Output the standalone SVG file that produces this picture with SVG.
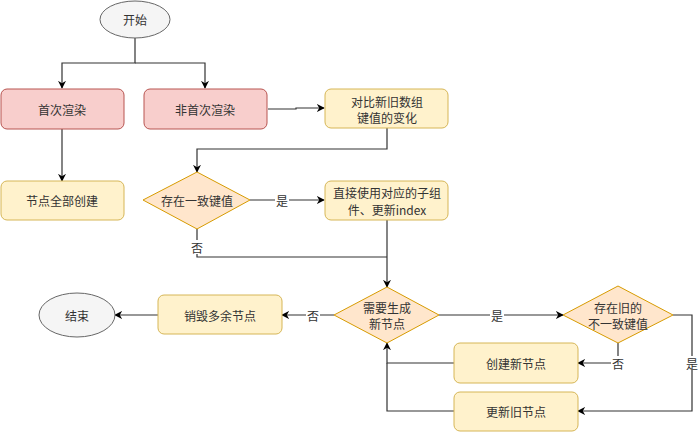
<svg xmlns="http://www.w3.org/2000/svg" width="700" height="432" viewBox="0 0 700 432">
<style>
text{font-family:"Noto Sans CJK SC","Liberation Sans",sans-serif;font-size:12px;fill:#333;text-anchor:middle;dominant-baseline:central}
.red{fill:#f8cecc;stroke:#b85450;stroke-width:1}
.yel{fill:#fff2cc;stroke:#d6b656;stroke-width:1}
.dia{fill:#ffe6cc;stroke:#d79b00;stroke-width:1}
.ell{fill:#f5f5f5;stroke:#666;stroke-width:1}
.e{fill:none;stroke:#333;stroke-width:1.2}
.lb{fill:#fff}
</style>
<defs>
<marker id="a" viewBox="0 0 10 10" refX="9" refY="5" markerWidth="8" markerHeight="8" markerUnits="userSpaceOnUse" orient="auto">
<path d="M0,0 L10,5 L0,10 L3,5 Z" fill="#000"/>
</marker>
</defs>
<g id="connectors">
<path class="e" d="M135,38 V63 H62 V88" marker-end="url(#a)"/>
<path class="e" d="M135,63 H205 V88" marker-end="url(#a)"/>
<path class="e" d="M268,109 H296 V108 H324" marker-end="url(#a)"/>
<path class="e" d="M62,129 V181" marker-end="url(#a)"/>
<path class="e" d="M387,128 V149 H197 V172" marker-end="url(#a)"/>
<path class="e" d="M250,200 H324" marker-end="url(#a)"/>
<path class="e" d="M197,229 V257 H387"/>
<path class="e" d="M387,220 V287" marker-end="url(#a)"/>
<path class="e" d="M334,315 H282" marker-end="url(#a)"/>
<path class="e" d="M158,315 H115" marker-end="url(#a)"/>
<path class="e" d="M439,315 H563" marker-end="url(#a)"/>
<path class="e" d="M618,343 V363 H578" marker-end="url(#a)"/>
<path class="e" d="M673,315 H692 V411 H578" marker-end="url(#a)"/>
<path class="e" d="M454,363 H387 V343" marker-end="url(#a)"/>
<path class="e" d="M454,411 H387 V363"/>
<rect class="lb" x="275" y="193" width="14" height="14"/><text x="282" y="200">是</text>
<rect class="lb" x="190" y="240" width="14" height="14"/><text x="197" y="247">否</text>
<rect class="lb" x="306" y="308" width="14" height="14"/><text x="313" y="315">否</text>
<rect class="lb" x="490" y="308" width="14" height="14"/><text x="497" y="315">是</text>
<rect class="lb" x="611" y="356" width="14" height="14"/><text x="618" y="363">否</text>
<rect class="lb" x="685" y="356" width="14" height="14"/><text x="692" y="363">是</text>
</g>
<g id="start"><ellipse class="ell" cx="135" cy="19.5" rx="35" ry="18.5"/><text x="135" y="19.5">开始</text></g>
<g id="first"><rect class="red" x="1" y="89" width="123" height="40" rx="6"/><text x="62" y="109">首次渲染</text></g>
<g id="notfirst"><rect class="red" x="144" y="89" width="123" height="40" rx="6"/><text x="205" y="109">非首次渲染</text></g>
<g id="compare"><rect class="yel" x="325" y="89" width="123" height="39" rx="6"/><text x="387" y="101">对比新旧数组</text><text x="387" y="117">键值的变化</text></g>
<g id="createall"><rect class="yel" x="1" y="181" width="123" height="39" rx="6"/><text x="62" y="200.5">节点全部创建</text></g>
<g id="samekey"><polygon class="dia" points="197,172 250,200 197,229 143,200"/><text x="197" y="200">存在一致键值</text></g>
<g id="reuse"><rect class="yel" x="325" y="181" width="123" height="39" rx="6"/><text x="387" y="192">直接使用对应的子组</text><text x="387" y="209">件、更新index</text></g>
<g id="neednew"><polygon class="dia" points="387,287 439,315 387,343 334,315"/><text x="387" y="307">需要生成</text><text x="387" y="323">新节点</text></g>
<g id="destroy"><rect class="yel" x="158" y="295" width="124" height="39" rx="6"/><text x="220" y="315">销毁多余节点</text></g>
<g id="end"><ellipse class="ell" cx="77" cy="315" rx="38" ry="22"/><text x="77" y="315">结束</text></g>
<g id="oldkey"><polygon class="dia" points="618,286 673,315 618,343 563,315"/><text x="618" y="307">存在旧的</text><text x="618" y="323">不一致键值</text></g>
<g id="createnew"><rect class="yel" x="454" y="343" width="124" height="40" rx="6"/><text x="516" y="363">创建新节点</text></g>
<g id="updateold"><rect class="yel" x="454" y="392" width="124" height="39" rx="6"/><text x="516" y="411.5">更新旧节点</text></g>
</svg>
